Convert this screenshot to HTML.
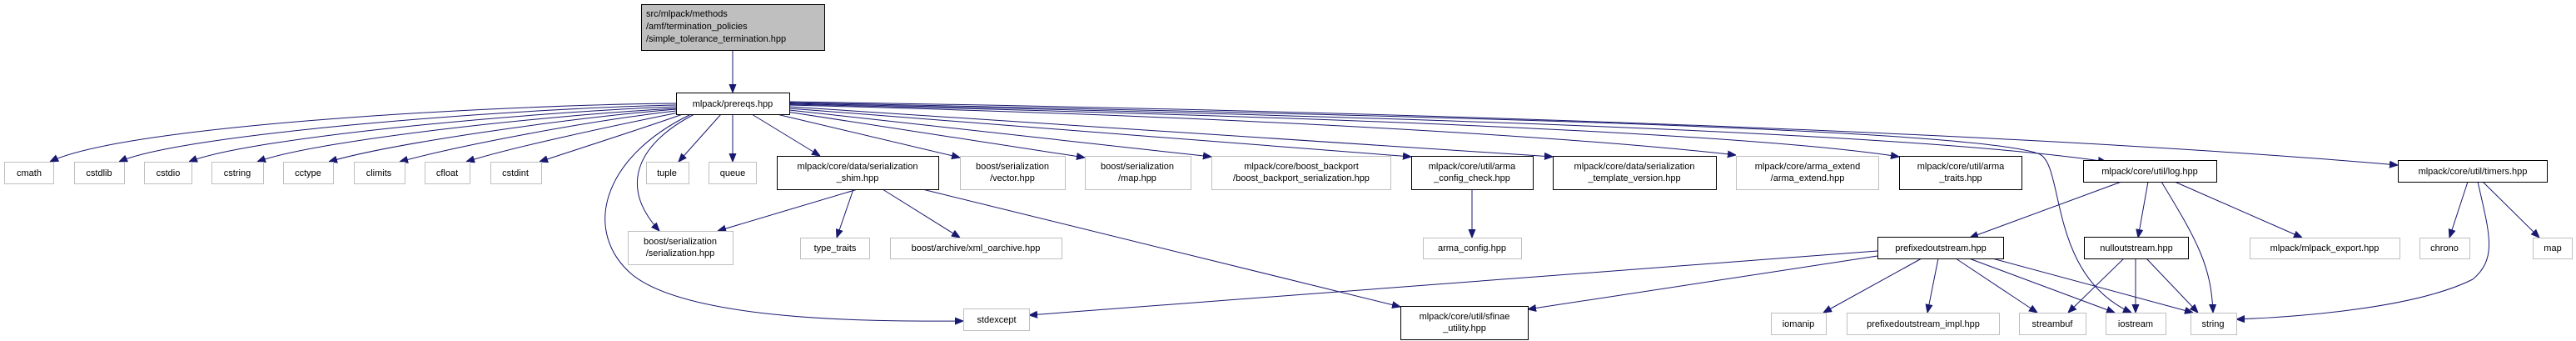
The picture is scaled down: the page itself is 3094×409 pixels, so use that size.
<!DOCTYPE html>
<html><head><meta charset="utf-8"><style>
html,body{margin:0;padding:0;background:#fff;width:3094px;height:409px;overflow:hidden}
svg text{font-family:"Liberation Sans",sans-serif;font-size:11px;fill:#000;text-anchor:middle}
.g{fill:#fff;stroke:#bfbfbf;stroke-width:1}
.b{fill:#fff;stroke:#000;stroke-width:1}
.e{fill:none;stroke:#191970;stroke-width:1}
</style></head><body>
<svg width="3094" height="409" viewBox="0 0 3094 409" xmlns="http://www.w3.org/2000/svg">
<defs><marker id="a" viewBox="0 0 10 10" refX="10" refY="5" markerWidth="10" markerHeight="10" markerUnits="userSpaceOnUse" orient="auto"><path d="M0,1 L10,5 L0,9 z" fill="#191970" stroke="#191970"/></marker></defs>
<g class="edges">
<path class="e" marker-end="url(#a)" d="M880,61 L880,111"/>
<path class="e" marker-end="url(#a)" d="M812,124 C600,126 150,150 60,194"/>
<path class="e" marker-end="url(#a)" d="M812,126 C620,130 220,160 143,194"/>
<path class="e" marker-end="url(#a)" d="M812,128 C640,134 300,165 227,194"/>
<path class="e" marker-end="url(#a)" d="M812,130 C660,138 380,168 309,194"/>
<path class="e" marker-end="url(#a)" d="M812,131 C680,142 470,172 395,194"/>
<path class="e" marker-end="url(#a)" d="M812,133 C700,146 550,175 480,194"/>
<path class="e" marker-end="url(#a)" d="M815,135 C730,152 610,178 560,194"/>
<path class="e" marker-end="url(#a)" d="M820,137 C760,158 690,180 648,194"/>
<path class="e" marker-end="url(#a)" d="M866,137 L815,194"/>
<path class="e" marker-end="url(#a)" d="M880,137 L880,194"/>
<path class="e" marker-end="url(#a)" d="M903,137 L985,187"/>
<path class="e" marker-end="url(#a)" d="M834,137 C770,170 740,220 792,277"/>
<path class="e" marker-end="url(#a)" d="M830,137 C720,190 700,280 760,330 C830,385 1050,386 1157,385"/>
<path class="e" marker-end="url(#a)" d="M933,137 L1153,189"/>
<path class="e" marker-end="url(#a)" d="M945,134 L1303,189"/>
<path class="e" marker-end="url(#a)" d="M948,132 L1455,188"/>
<path class="e" marker-end="url(#a)" d="M948,130 L1695,188"/>
<path class="e" marker-end="url(#a)" d="M948,128 L1865,188"/>
<path class="e" marker-end="url(#a)" d="M948,126 C1500,140 1900,165 2085,186"/>
<path class="e" marker-end="url(#a)" d="M948,125 C1600,140 2100,160 2281,188"/>
<path class="e" marker-end="url(#a)" d="M948,124 C1700,140 2300,160 2530,194"/>
<path class="e" marker-end="url(#a)" d="M948,122 C1800,135 2500,165 2880,198"/>
<path class="e" marker-end="url(#a)" d="M948,123 C1700,138 2380,155 2450,185 C2480,200 2460,330 2560,375"/>
<path class="e" marker-end="url(#a)" d="M1030,227 L862,277"/>
<path class="e" marker-end="url(#a)" d="M1025,227 L1005,285"/>
<path class="e" marker-end="url(#a)" d="M1060,227 L1153,285"/>
<path class="e" marker-end="url(#a)" d="M1108,227 L1682,368"/>
<path class="e" marker-end="url(#a)" d="M1768,227 L1768,285"/>
<path class="e" marker-end="url(#a)" d="M2255,301 L1236,378"/>
<path class="e" marker-end="url(#a)" d="M2255,307 L1835,371"/>
<path class="e" marker-end="url(#a)" d="M2548,218 L2366,285"/>
<path class="e" marker-end="url(#a)" d="M2580,218 L2568,285"/>
<path class="e" marker-end="url(#a)" d="M2596,218 C2640,290 2656,320 2658,375"/>
<path class="e" marker-end="url(#a)" d="M2612,218 L2765,285"/>
<path class="e" marker-end="url(#a)" d="M2964,218 L2942,285"/>
<path class="e" marker-end="url(#a)" d="M2982,218 L3050,285"/>
<path class="e" marker-end="url(#a)" d="M2976,218 C2990,280 3000,310 2970,335 C2900,370 2760,380 2686,383"/>
<path class="e" marker-end="url(#a)" d="M2308,310 L2190,375"/>
<path class="e" marker-end="url(#a)" d="M2328,310 L2315,375"/>
<path class="e" marker-end="url(#a)" d="M2349,310 L2447,375"/>
<path class="e" marker-end="url(#a)" d="M2365,310 L2540,375"/>
<path class="e" marker-end="url(#a)" d="M2393,310 L2634,375"/>
<path class="e" marker-end="url(#a)" d="M2551,310 L2484,375"/>
<path class="e" marker-end="url(#a)" d="M2565,310 L2565,375"/>
<path class="e" marker-end="url(#a)" d="M2578,310 L2640,375"/>
</g>
<!-- nodes -->
<rect x="770.5" y="5.5" width="220" height="55" fill="#bfbfbf" stroke="#000"/>
<text x="776" y="20" style="text-anchor:start">src/mlpack/methods</text>
<text x="776" y="35" style="text-anchor:start">/amf/termination_policies</text>
<text x="776" y="50" style="text-anchor:start">/simple_tolerance_termination.hpp</text>

<rect class="b" x="812.5" y="111.5" width="136" height="26"/><text x="880" y="128">mlpack/prereqs.hpp</text>

<rect class="g" x="5.5" y="194.5" width="59" height="26"/><text x="35" y="211">cmath</text>
<rect class="g" x="89.5" y="194.5" width="60" height="26"/><text x="119" y="211">cstdlib</text>
<rect class="g" x="173.5" y="194.5" width="57" height="26"/><text x="202" y="211">cstdio</text>
<rect class="g" x="254.5" y="194.5" width="62" height="26"/><text x="285" y="211">cstring</text>
<rect class="g" x="340.5" y="194.5" width="60" height="26"/><text x="370" y="211">cctype</text>
<rect class="g" x="425.5" y="194.5" width="61" height="26"/><text x="455" y="211">climits</text>
<rect class="g" x="510.5" y="194.5" width="54" height="26"/><text x="537" y="211">cfloat</text>
<rect class="g" x="589.5" y="194.5" width="61" height="26"/><text x="619" y="211">cstdint</text>
<rect class="g" x="776.5" y="194.5" width="51" height="26"/><text x="801" y="211">tuple</text>
<rect class="g" x="851.5" y="194.5" width="57" height="26"/><text x="880" y="211">queue</text>

<rect class="b" x="933.5" y="187.5" width="194" height="40"/><text x="1030" y="203">mlpack/core/data/serialization</text><text x="1030" y="217">_shim.hpp</text>
<rect class="g" x="1153.5" y="187.5" width="126" height="40"/><text x="1216" y="203">boost/serialization</text><text x="1216" y="217">/vector.hpp</text>
<rect class="g" x="1303.5" y="187.5" width="127" height="40"/><text x="1366" y="203">boost/serialization</text><text x="1366" y="217">/map.hpp</text>
<rect class="g" x="1455.5" y="187.5" width="215" height="40"/><text x="1563" y="203">mlpack/core/boost_backport</text><text x="1563" y="217">/boost_backport_serialization.hpp</text>
<rect class="b" x="1695.5" y="187.5" width="146" height="40"/><text x="1768" y="203">mlpack/core/util/arma</text><text x="1768" y="217">_config_check.hpp</text>
<rect class="b" x="1865.5" y="187.5" width="196" height="40"/><text x="1963" y="203">mlpack/core/data/serialization</text><text x="1963" y="217">_template_version.hpp</text>
<rect class="g" x="2085.5" y="187.5" width="171" height="40"/><text x="2171" y="203">mlpack/core/arma_extend</text><text x="2171" y="217">/arma_extend.hpp</text>
<rect class="b" x="2281.5" y="187.5" width="147" height="40"/><text x="2355" y="203">mlpack/core/util/arma</text><text x="2355" y="217">_traits.hpp</text>
<rect class="b" x="2502.5" y="192.5" width="160" height="26"/><text x="2582" y="209">mlpack/core/util/log.hpp</text>
<rect class="b" x="2880.5" y="192.5" width="179" height="26"/><text x="2970" y="209">mlpack/core/util/timers.hpp</text>

<rect class="g" x="754.5" y="277.5" width="126" height="40"/><text x="817" y="293">boost/serialization</text><text x="817" y="307">/serialization.hpp</text>
<rect class="g" x="961.5" y="285.5" width="83" height="25"/><text x="1003" y="301">type_traits</text>
<rect class="g" x="1069.5" y="285.5" width="206" height="25"/><text x="1172" y="301">boost/archive/xml_oarchive.hpp</text>
<rect class="g" x="1709.5" y="285.5" width="118" height="25"/><text x="1768" y="301">arma_config.hpp</text>
<rect class="b" x="2255.5" y="284.5" width="151" height="26"/><text x="2331" y="301">prefixedoutstream.hpp</text>
<rect class="b" x="2503.5" y="284.5" width="125" height="26"/><text x="2566" y="301">nulloutstream.hpp</text>
<rect class="g" x="2702.5" y="285.5" width="180" height="25"/><text x="2792" y="301">mlpack/mlpack_export.hpp</text>
<rect class="g" x="2906.5" y="285.5" width="60" height="25"/><text x="2936" y="301">chrono</text>
<rect class="g" x="3042.5" y="285.5" width="47" height="25"/><text x="3066" y="301">map</text>

<rect class="g" x="1157.5" y="370.5" width="79" height="26"/><text x="1197" y="387">stdexcept</text>
<rect class="b" x="1682.5" y="367.5" width="153" height="40"/><text x="1759" y="383">mlpack/core/util/sfinae</text><text x="1759" y="397">_utility.hpp</text>
<rect class="g" x="2127.5" y="375.5" width="66" height="26"/><text x="2160" y="392">iomanip</text>
<rect class="g" x="2218.5" y="375.5" width="183" height="26"/><text x="2310" y="392">prefixedoutstream_impl.hpp</text>
<rect class="g" x="2425.5" y="375.5" width="80" height="26"/><text x="2465" y="392">streambuf</text>
<rect class="g" x="2529.5" y="375.5" width="72" height="26"/><text x="2565" y="392">iostream</text>
<rect class="g" x="2631.5" y="375.5" width="55" height="26"/><text x="2658" y="392">string</text>
</svg>
</body></html>
